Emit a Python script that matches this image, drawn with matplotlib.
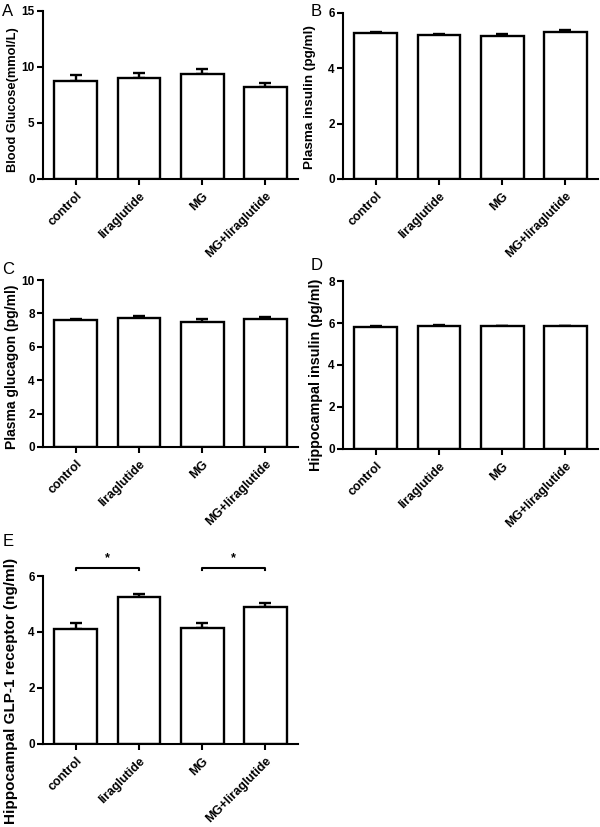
import matplotlib
matplotlib.use("Agg")
import matplotlib.pyplot as plt
import numpy as np

plt.rcParams['font.family'] = ['Liberation Sans', 'DejaVu Sans']

groups = ["control", "liraglutide", "MG", "MG+liraglutide"]

glucose_mean = [8.75, 9.04, 9.37, 8.24]
glucose_err = [0.54, 0.45, 0.45, 0.36]

plasma_insulin_mean = [5.26, 5.20, 5.18, 5.31]
plasma_insulin_err = [0.05, 0.04, 0.06, 0.08]

glucagon_mean = [7.60, 7.72, 7.50, 7.64]
glucagon_err = [0.05, 0.14, 0.14, 0.13]

hippo_insulin_mean = [5.79, 5.86, 5.84, 5.84]
hippo_insulin_err = [0.05, 0.06, 0.04, 0.04]

glp1_mean = [4.10, 5.25, 4.13, 4.89]
glp1_err = [0.21, 0.12, 0.19, 0.13]

W, H = 600, 827

panels = [
    dict(letter="A", mean=glucose_mean, err=glucose_err, ylabel="Blood Glucose(mmol/L)",
         ymax=15, yticks=[0, 5, 10, 15], rect=[0.0717, 0.7836, 0.425, 0.2031], lpos=(2, 12),
         lsize=9.3, lcoords=(-0.095, 0.47)),
    dict(letter="B", mean=plasma_insulin_mean, err=plasma_insulin_err, ylabel="Plasma insulin (pg/ml)",
         ymax=6, yticks=[0, 2, 4, 6], rect=[0.5717, 0.7836, 0.425, 0.2007], lpos=(311, 12),
         lsize=9.7, lcoords=(-0.107, 0.494)),
    dict(letter="C", mean=glucagon_mean, err=glucagon_err, ylabel="Plasma glucagon (pg/ml)",
         ymax=10, yticks=[0, 2, 4, 6, 8, 10], rect=[0.0717, 0.4595, 0.425, 0.2019], lpos=(2, 269),
         lsize=10, lcoords=(-0.095, 0.479)),
    dict(letter="D", mean=hippo_insulin_mean, err=hippo_insulin_err, ylabel="Hippocampal insulin (pg/ml)",
         ymax=8, yticks=[0, 2, 4, 6, 8], rect=[0.5717, 0.4571, 0.425, 0.2031], lpos=(311, 265),
         lsize=10.4, lcoords=(-0.08, 0.44)),
    dict(letter="E", mean=glp1_mean, err=glp1_err, ylabel="Hippocampal GLP-1 receptor (ng/ml)",
         ymax=6, yticks=[0, 2, 4, 6], rect=[0.0717, 0.1004, 0.425, 0.2031], lpos=(3, 541),
         lsize=11, lcoords=(-0.1, 0.315)),
]

sig_pairs = [(0, 1), (2, 3)]
sig_y = 6.3
sig_drop = 0.1

fig = plt.figure(figsize=(6, 8.27), dpi=100)

for p in panels:
    ax = fig.add_axes(p["rect"])
    x = np.arange(len(groups))
    ax.bar(x, p["mean"], width=0.68, color="white", edgecolor="black", linewidth=1.7, zorder=2)
    ax.errorbar(x, p["mean"], yerr=[np.zeros(len(groups)), p["err"]], fmt="none",
                ecolor="black", elinewidth=1.7, capsize=4.5, capthick=1.7, zorder=1)
    ax.set_xlim(-0.52, 3.52)
    ax.set_ylim(0, p["ymax"])
    ax.set_yticks(p["yticks"])
    ax.set_xticks(x)
    ax.set_xticklabels(groups, rotation=45, ha="right", rotation_mode="anchor",
                       fontsize=9, fontweight="bold")
    for lab in ax.get_yticklabels():
        lab.set_fontweight("bold")
        lab.set_fontsize(8.5)
    ax.spines["top"].set_visible(False)
    ax.spines["right"].set_visible(False)
    ax.spines["left"].set_linewidth(1.5)
    ax.spines["bottom"].set_linewidth(1.5)
    ax.tick_params(axis="both", direction="out", length=4, width=1.5, pad=2)
    ax.tick_params(axis="x", pad=4)
    ax.set_ylabel(p["ylabel"], fontsize=p["lsize"], fontweight="bold")
    ax.yaxis.set_label_coords(*p["lcoords"])
    lx, ly = p["lpos"]
    fig.text(lx / W, 1 - ly / H, p["letter"], fontsize=12, ha="left", va="center")
    if p["letter"] == "E":
        for a, b in sig_pairs:
            ax.plot([a, a, b, b], [sig_y - sig_drop, sig_y, sig_y, sig_y - sig_drop],
                    color="black", lw=1.5, clip_on=False)
            ax.text((a + b) / 2, sig_y + 0.12, "*", ha="center", va="bottom",
                    fontsize=9, fontweight="bold", clip_on=False)

fig.savefig("out.png", dpi=100, facecolor="white")
